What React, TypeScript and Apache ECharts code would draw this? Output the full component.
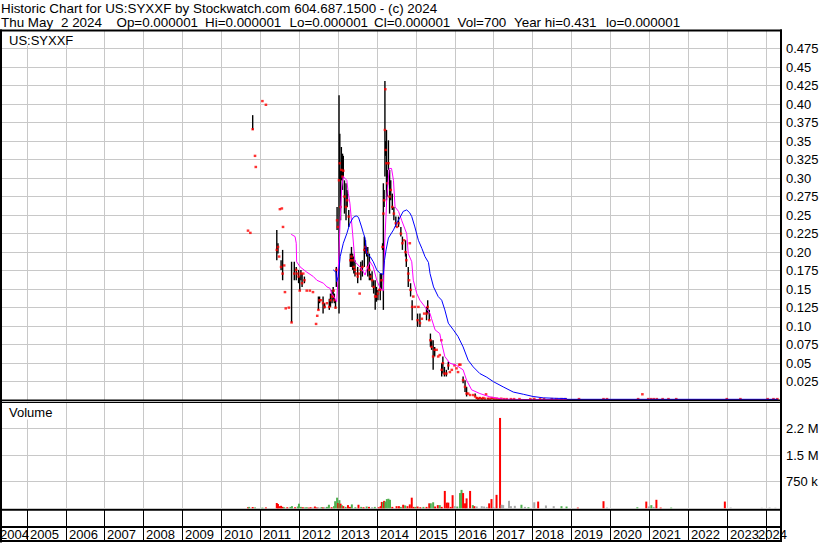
import React, { useEffect, useRef } from 'react';
import * as echarts from 'echarts';

const FONT = 'Arial, "Liberation Sans", Helvetica, sans-serif';

// ---------- texts ----------
const titleLine1 = 'Historic Chart for US:SYXXF by Stockwatch.com 604.687.1500 - (c) 2024';
const quoteTexts = ['Thu May', '2 2024', 'Op=0.000001', 'Hi=0.000001', 'Lo=0.000001', 'Cl=0.000001', 'Vol=700', 'Year hi=0.431', 'lo=0.000001'];
const symbolLabel = 'US:SYXXF';
const volumeLabel = 'Volume';

// ---------- axes ----------
const X_MIN = 2004.339; // 2 May 2004
const X_MAX = 2024.368;
const yearStarts = [2004, 2005, 2006, 2007, 2008, 2009, 2010, 2011, 2012, 2013, 2014, 2015, 2016, 2017, 2018, 2019, 2020, 2021, 2022, 2023, 2024];
const yearLabels = ['2004', '2005', '2006', '2007', '2008', '2009', '2010', '2011', '2012', '2013', '2014', '2015', '2016', '2017', '2018', '2019', '2020', '2021', '2022', '2023', '2024'];
const priceTickLabels = ['0.025', '0.05', '0.075', '0.10', '0.125', '0.15', '0.175', '0.20', '0.225', '0.25', '0.275', '0.30', '0.325', '0.35', '0.375', '0.40', '0.425', '0.45', '0.475'];
const volTickLabels = ['750 k', '1.5 M', '2.2 M'];

// ---------- price: [year, high, low, close] ----------
const priceBars: number[][] = [
  [2010.69, 0.229, 0.229, 0.229], [2010.75, 0.226, 0.226, 0.226], [2010.81, 0.385, 0.365, 0.366],
  [2010.87, 0.330, 0.330, 0.330], [2010.89, 0.315, 0.315, 0.315], [2011.06, 0.404, 0.404, 0.404],
  [2011.15, 0.399, 0.399, 0.399],
  [2011.43, 0.230, 0.189, 0.203], [2011.46, 0.212, 0.198, 0.207], [2011.49, 0.194, 0.194, 0.194],
  [2011.51, 0.258, 0.258, 0.258], [2011.54, 0.189, 0.176, 0.180], [2011.56, 0.259, 0.259, 0.259],
  [2011.58, 0.203, 0.162, 0.171], [2011.59, 0.234, 0.234, 0.234], [2011.62, 0.182, 0.182, 0.182],
  [2011.64, 0.146, 0.146, 0.146], [2011.66, 0.124, 0.124, 0.124], [2011.74, 0.125, 0.125, 0.125],
  [2011.81, 0.187, 0.105, 0.105], [2011.88, 0.187, 0.162, 0.171], [2011.93, 0.180, 0.162, 0.176],
  [2011.96, 0.171, 0.171, 0.171], [2011.99, 0.176, 0.158, 0.167], [2012.02, 0.167, 0.148, 0.148],
  [2012.05, 0.176, 0.162, 0.171], [2012.08, 0.171, 0.153, 0.158], [2012.11, 0.171, 0.171, 0.171],
  [2012.14, 0.167, 0.158, 0.162], [2012.20, 0.148, 0.148, 0.148], [2012.28, 0.148, 0.148, 0.148],
  [2012.36, 0.146, 0.146, 0.146], [2012.44, 0.103, 0.103, 0.103], [2012.47, 0.114, 0.114, 0.114],
  [2012.50, 0.140, 0.122, 0.122], [2012.53, 0.140, 0.131, 0.135], [2012.57, 0.135, 0.135, 0.135],
  [2012.62, 0.140, 0.117, 0.131], [2012.66, 0.131, 0.124, 0.126], [2012.72, 0.131, 0.131, 0.131],
  [2012.78, 0.137, 0.122, 0.126], [2012.81, 0.144, 0.126, 0.135], [2012.85, 0.149, 0.131, 0.140],
  [2012.88, 0.153, 0.135, 0.140], [2012.89, 0.148, 0.148, 0.148], [2012.91, 0.144, 0.131, 0.135],
  [2012.94, 0.135, 0.124, 0.125], [2012.96, 0.180, 0.153, 0.176], [2012.98, 0.261, 0.230, 0.243],
  [2013.00, 0.234, 0.234, 0.234], [2013.03, 0.412, 0.117, 0.297], [2013.05, 0.360, 0.297, 0.320],
  [2013.07, 0.311, 0.243, 0.261], [2013.09, 0.342, 0.297, 0.311], [2013.12, 0.333, 0.284, 0.302],
  [2013.14, 0.330, 0.300, 0.310], [2013.17, 0.297, 0.252, 0.275], [2013.21, 0.293, 0.243, 0.261],
  [2013.24, 0.284, 0.261, 0.270], [2013.28, 0.257, 0.234, 0.248], [2013.32, 0.198, 0.180, 0.189],
  [2013.35, 0.207, 0.180, 0.194], [2013.38, 0.198, 0.176, 0.189], [2013.41, 0.194, 0.171, 0.180],
  [2013.44, 0.189, 0.167, 0.176], [2013.47, 0.171, 0.171, 0.171], [2013.51, 0.180, 0.158, 0.167],
  [2013.54, 0.171, 0.171, 0.171], [2013.56, 0.144, 0.144, 0.144], [2013.59, 0.187, 0.162, 0.176],
  [2013.63, 0.189, 0.167, 0.180], [2013.68, 0.221, 0.180, 0.203], [2013.71, 0.216, 0.198, 0.207],
  [2013.74, 0.207, 0.194, 0.200], [2013.77, 0.207, 0.167, 0.180], [2013.81, 0.198, 0.162, 0.176],
  [2013.84, 0.171, 0.162, 0.167], [2013.88, 0.174, 0.153, 0.162], [2013.92, 0.162, 0.144, 0.153],
  [2013.96, 0.162, 0.122, 0.140], [2013.99, 0.153, 0.133, 0.140], [2014.03, 0.149, 0.135, 0.144],
  [2014.06, 0.149, 0.149, 0.149], [2014.09, 0.171, 0.135, 0.149], [2014.12, 0.171, 0.149, 0.162],
  [2014.15, 0.212, 0.203, 0.207], [2014.17, 0.293, 0.122, 0.252], [2014.19, 0.284, 0.261, 0.270],
  [2014.21, 0.431, 0.302, 0.365], [2014.22, 0.420, 0.420, 0.420], [2014.23, 0.350, 0.330, 0.338],
  [2014.25, 0.365, 0.270, 0.320], [2014.27, 0.311, 0.275, 0.293], [2014.30, 0.351, 0.311, 0.320],
  [2014.33, 0.311, 0.252, 0.275], [2014.36, 0.297, 0.270, 0.284], [2014.40, 0.279, 0.257, 0.261],
  [2014.44, 0.261, 0.243, 0.252], [2014.49, 0.248, 0.234, 0.239], [2014.52, 0.234, 0.234, 0.234],
  [2014.56, 0.248, 0.234, 0.239], [2014.62, 0.234, 0.221, 0.225], [2014.66, 0.221, 0.203, 0.212],
  [2014.70, 0.216, 0.216, 0.216], [2014.74, 0.216, 0.194, 0.200], [2014.76, 0.198, 0.180, 0.189],
  [2014.81, 0.180, 0.153, 0.171], [2014.83, 0.162, 0.162, 0.162], [2014.85, 0.212, 0.212, 0.212],
  [2014.87, 0.158, 0.140, 0.149], [2014.91, 0.135, 0.108, 0.126], [2014.94, 0.140, 0.140, 0.140],
  [2014.98, 0.126, 0.126, 0.126], [2015.05, 0.117, 0.099, 0.108], [2015.07, 0.126, 0.126, 0.126],
  [2015.11, 0.117, 0.099, 0.104], [2015.16, 0.110, 0.110, 0.110], [2015.22, 0.117, 0.117, 0.117],
  [2015.28, 0.126, 0.108, 0.117], [2015.31, 0.135, 0.117, 0.126], [2015.35, 0.122, 0.108, 0.108],
  [2015.38, 0.090, 0.072, 0.081], [2015.41, 0.081, 0.068, 0.072], [2015.45, 0.081, 0.041, 0.059],
  [2015.49, 0.072, 0.059, 0.068], [2015.54, 0.068, 0.068, 0.068], [2015.58, 0.059, 0.059, 0.059],
  [2015.62, 0.061, 0.061, 0.061], [2015.66, 0.081, 0.081, 0.081], [2015.67, 0.050, 0.032, 0.041],
  [2015.70, 0.059, 0.036, 0.050], [2015.74, 0.045, 0.032, 0.036], [2015.79, 0.041, 0.032, 0.036],
  [2015.84, 0.052, 0.041, 0.047], [2015.88, 0.038, 0.038, 0.038], [2015.93, 0.041, 0.041, 0.041],
  [2016.00, 0.047, 0.047, 0.047], [2016.05, 0.043, 0.043, 0.043], [2016.09, 0.038, 0.038, 0.038],
  [2016.12, 0.048, 0.048, 0.048], [2016.15, 0.048, 0.048, 0.048], [2016.22, 0.032, 0.023, 0.027],
  [2016.27, 0.027, 0.011, 0.018], [2016.31, 0.018, 0.005, 0.009], [2016.35, 0.009, 0.009, 0.009],
  [2016.40, 0.007, 0.007, 0.007], [2016.48, 0.007, 0.007, 0.007], [2016.53, 0.009, 0.005, 0.005],
  [2016.57, 0.004, 0.002, 0.003], [2016.61, 0.003, 0.0015, 0.002], [2016.65, 0.004, 0.002, 0.003],
  [2016.70, 0.003, 0.0015, 0.002], [2016.74, 0.003, 0.002, 0.003], [2016.78, 0.002, 0.002, 0.002],
  [2016.81, 0.008, 0.008, 0.008], [2016.86, 0.003, 0.0015, 0.002], [2016.91, 0.002, 0.002, 0.002],
  [2016.96, 0.003, 0.002, 0.003], [2017.02, 0.002, 0.002, 0.002], [2017.08, 0.002, 0.0015, 0.002],
  [2017.14, 0.002, 0.0015, 0.0015], [2017.20, 0.002, 0.002, 0.002], [2017.27, 0.0015, 0.0015, 0.0015],
  [2017.34, 0.0015, 0.0015, 0.0015], [2017.45, 0.0015, 0.0015, 0.0015], [2017.53, 0.0015, 0.0015, 0.0015],
  [2017.67, 0.0015, 0.0015, 0.0015], [2017.95, 0.0015, 0.0015, 0.0015], [2018.05, 0.0018, 0.0018, 0.0018],
  [2018.20, 0.0015, 0.0015, 0.0015], [2018.30, 0.0015, 0.0015, 0.0015], [2018.50, 0.0015, 0.0015, 0.0015],
  [2018.62, 0.0015, 0.0015, 0.0015], [2018.75, 0.0015, 0.0015, 0.0015], [2018.85, 0.0015, 0.0015, 0.0015],
  [2019.20, 0.0015, 0.0015, 0.0015], [2019.83, 0.0015, 0.0015, 0.0015], [2019.92, 0.0015, 0.0015, 0.0015],
  [2020.72, 0.0015, 0.0015, 0.0015], [2020.83, 0.008, 0.008, 0.008], [2020.98, 0.0015, 0.0015, 0.0015],
  [2021.05, 0.0015, 0.0015, 0.0015], [2021.12, 0.0015, 0.0015, 0.0015], [2021.20, 0.0015, 0.0015, 0.0015],
  [2021.35, 0.0015, 0.0015, 0.0015], [2021.50, 0.0015, 0.0015, 0.0015], [2021.70, 0.0015, 0.0015, 0.0015],
  [2023.00, 0.0015, 0.0015, 0.0015], [2023.35, 0.0015, 0.0015, 0.0015], [2024.05, 0.0015, 0.0015, 0.0015],
  [2024.20, 0.0015, 0.0015, 0.0015], [2024.30, 0.0015, 0.0015, 0.0015],
];

// ---------- moving averages: [year, value] ----------
const maShort: number[][] = [
  [2011.80, 0.224], [2011.90, 0.221], [2011.93, 0.212], [2011.94, 0.187], [2012.03, 0.180], [2012.20, 0.173],
  [2012.37, 0.167], [2012.46, 0.162], [2012.63, 0.158], [2012.72, 0.153], [2012.80, 0.151], [2012.84, 0.144],
  [2012.93, 0.137], [2012.97, 0.133], [2013.00, 0.162], [2013.06, 0.243], [2013.10, 0.288], [2013.14, 0.302],
  [2013.23, 0.297], [2013.27, 0.279], [2013.31, 0.266], [2013.38, 0.225], [2013.44, 0.187], [2013.57, 0.180],
  [2013.66, 0.173], [2013.70, 0.169], [2013.74, 0.176], [2013.83, 0.187], [2013.91, 0.180], [2014.00, 0.162],
  [2014.09, 0.151], [2014.17, 0.148], [2014.20, 0.207], [2014.26, 0.275], [2014.32, 0.313], [2014.38, 0.313],
  [2014.43, 0.297], [2014.47, 0.261], [2014.56, 0.255], [2014.64, 0.243], [2014.77, 0.225], [2014.81, 0.198],
  [2014.90, 0.187], [2014.94, 0.162], [2015.03, 0.144], [2015.11, 0.135], [2015.24, 0.126], [2015.37, 0.117],
  [2015.41, 0.110], [2015.50, 0.095], [2015.62, 0.090], [2015.67, 0.077], [2015.75, 0.059], [2015.88, 0.050],
  [2016.05, 0.047], [2016.22, 0.041], [2016.31, 0.027], [2016.44, 0.014], [2016.65, 0.009], [2016.91, 0.0045],
  [2017.25, 0.0014], [2018.00, 0.0008], [2024.31, 0.0008],
];
const maLong: number[][] = [
  [2012.88, 0.176], [2012.95, 0.173], [2012.97, 0.160], [2013.01, 0.167], [2013.06, 0.194], [2013.14, 0.212],
  [2013.23, 0.225], [2013.31, 0.239], [2013.40, 0.247], [2013.47, 0.249], [2013.53, 0.247], [2013.61, 0.234],
  [2013.66, 0.225], [2013.70, 0.219], [2013.74, 0.198], [2013.83, 0.194], [2013.91, 0.187], [2014.00, 0.176],
  [2014.09, 0.171], [2014.17, 0.170], [2014.20, 0.189], [2014.24, 0.203], [2014.30, 0.219], [2014.43, 0.230],
  [2014.51, 0.239], [2014.60, 0.247], [2014.68, 0.255], [2014.77, 0.257], [2014.85, 0.253], [2014.90, 0.248],
  [2014.98, 0.234], [2015.07, 0.216], [2015.16, 0.205], [2015.24, 0.194], [2015.33, 0.186], [2015.37, 0.171],
  [2015.46, 0.153], [2015.58, 0.140], [2015.67, 0.135], [2015.75, 0.122], [2015.84, 0.104], [2015.97, 0.095],
  [2016.09, 0.086], [2016.22, 0.072], [2016.35, 0.054], [2016.48, 0.045], [2016.65, 0.036], [2016.83, 0.031],
  [2017.00, 0.025], [2017.25, 0.018], [2017.51, 0.011], [2017.77, 0.008], [2018.02, 0.005], [2018.28, 0.0032],
  [2018.62, 0.0025], [2018.88, 0.0023], [2018.89, 0.0012], [2024.31, 0.0012],
];

// ---------- volume: [year, shares, direction 1 up / -1 down / 0 unchanged] ----------
const volumeBars: number[][] = [
  [2010.69, 30000, -1], [2010.72, 40000, 1], [2010.81, 35000, -1], [2010.87, 25000, 1], [2011.06, 20000, 1],
  [2011.15, 25000, -1], [2011.43, 150000, -1], [2011.46, 120000, -1], [2011.50, 60000, -1], [2011.54, 70000, -1],
  [2011.58, 40000, -1], [2011.62, 30000, 1], [2011.70, 30000, -1], [2011.78, 40000, 1], [2011.82, 60000, 1],
  [2011.90, 30000, -1], [2011.97, 50000, 1], [2012.00, 130000, 1], [2012.05, 40000, 1], [2012.10, 30000, -1],
  [2012.16, 25000, 1], [2012.20, 30000, 1], [2012.25, 20000, -1], [2012.30, 30000, -1], [2012.36, 20000, 0],
  [2012.41, 50000, -1], [2012.46, 25000, -1], [2012.50, 30000, 0], [2012.58, 35000, 1], [2012.62, 25000, -1],
  [2012.66, 30000, 0], [2012.72, 40000, 1], [2012.77, 100000, 1], [2012.84, 30000, -1], [2012.90, 60000, 1],
  [2012.93, 200000, 1], [2012.98, 300000, 1], [2013.01, 150000, -1], [2013.04, 230000, 1], [2013.07, 130000, -1],
  [2013.10, 90000, 1], [2013.14, 60000, -1], [2013.20, 40000, 1], [2013.26, 90000, -1], [2013.31, 40000, -1],
  [2013.36, 110000, 1], [2013.45, 30000, 1], [2013.53, 100000, -1], [2013.60, 40000, 1], [2013.66, 30000, -1],
  [2013.74, 50000, 1], [2013.80, 40000, -1], [2013.88, 30000, 0], [2013.95, 40000, 1], [2014.05, 30000, -1],
  [2014.10, 60000, -1], [2014.13, 180000, -1], [2014.16, 170000, 1], [2014.19, 210000, -1], [2014.22, 190000, 1],
  [2014.26, 260000, 1], [2014.30, 270000, 1], [2014.34, 240000, 1], [2014.40, 40000, -1], [2014.51, 60000, -1],
  [2014.57, 60000, -1], [2014.62, 40000, 1], [2014.68, 100000, -1], [2014.73, 80000, 1], [2014.79, 60000, -1],
  [2014.85, 110000, -1], [2014.90, 300000, -1], [2014.95, 40000, -1], [2015.00, 40000, 1], [2015.05, 50000, -1],
  [2015.12, 30000, -1], [2015.20, 40000, 1], [2015.28, 40000, -1], [2015.35, 140000, -1], [2015.39, 140000, 1],
  [2015.45, 170000, 1], [2015.50, 50000, -1], [2015.57, 90000, -1], [2015.62, 90000, 1], [2015.67, 40000, -1],
  [2015.75, 490000, -1], [2015.80, 160000, -1], [2015.84, 160000, -1], [2015.90, 40000, -1], [2015.95, 370000, -1],
  [2016.01, 60000, 0], [2016.07, 50000, 1], [2016.14, 430000, 1], [2016.18, 520000, 1], [2016.22, 430000, -1],
  [2016.27, 140000, -1], [2016.31, 280000, -1], [2016.40, 490000, -1], [2016.47, 90000, 1], [2016.51, 60000, -1],
  [2016.57, 50000, 0], [2016.70, 60000, 0], [2016.76, 50000, 0], [2016.83, 40000, 0], [2016.89, 140000, -1],
  [2016.95, 260000, -1], [2017.00, 40000, 0], [2017.08, 380000, -1], [2017.17, 2550000, -1], [2017.21, 100000, 0],
  [2017.25, 90000, 0], [2017.40, 210000, 0], [2017.45, 60000, 0], [2017.55, 70000, 0], [2017.72, 100000, 1],
  [2017.81, 40000, 0], [2017.90, 30000, 1], [2018.05, 170000, 0], [2018.15, 190000, -1], [2018.35, 80000, 0],
  [2018.55, 60000, 0], [2018.75, 60000, 1], [2018.88, 50000, 1], [2019.17, 20000, -1], [2019.83, 200000, -1],
  [2019.92, 20000, 0], [2020.70, 30000, 1], [2020.93, 190000, -1], [2021.00, 50000, 0], [2021.06, 90000, 1],
  [2021.12, 40000, 0], [2021.19, 240000, -1], [2021.30, 20000, -1], [2021.57, 20000, 1], [2022.95, 190000, -1],
  [2023.10, 20000, 0], [2023.90, 15000, 0], [2024.10, 20000, 0], [2024.25, 15000, 0],
];

// ---------- layout (pixels) ----------
const quoteX = [1, 61, 116.5, 205, 289.5, 374, 457.5, 514, 606];
const GRID_LEFT = 1;
const GRID_WIDTH = 779;

const gridColor = '#c8c8c8';
const upColor = '#4fb04f';
const downColor = '#ff0000';
const flatColor = '#a8a8a8';

function yearLines(gi: number, topVal: number) {
  return {
    type: 'custom',
    xAxisIndex: gi,
    yAxisIndex: gi,
    z: 1,
    silent: true,
    clip: false,
    data: yearStarts.slice(1).map((y) => [y, 0]),
    renderItem: (params: any, api: any) => {
      const p0 = api.coord([api.value(0), 0]);
      const p1 = api.coord([api.value(0), topVal]);
      const x = Math.round(p0[0]) + 0.5;
      return {
        type: 'line',
        shape: { x1: x, y1: p0[1], x2: x, y2: p1[1] },
        style: { stroke: gridColor, lineWidth: 1 },
      };
    },
  };
}

function buildOption() {
  const rect = (x: number, y: number, w: number, h: number, fill = '#000', z = 100) => ({
    type: 'rect', z, silent: true, shape: { x, y, width: w, height: h }, style: { fill },
  });
  const text = (t: string, x: number, y: number, size = 13) => ({
    type: 'text', z: 101, silent: true, x, y,
    style: { text: t, fill: '#000', font: `${size}px ${FONT}`, align: 'left', verticalAlign: 'middle' },
  });

  return {
    animation: false,
    backgroundColor: '#ffffff',
    grid: [
      { left: GRID_LEFT, top: 30, width: GRID_WIDTH, height: 370.2 },
      { left: GRID_LEFT, top: 402, width: GRID_WIDTH, height: 106.3 },
      { left: GRID_LEFT, top: 510, width: GRID_WIDTH, height: 31 },
    ],
    xAxis: [0, 1, 2].map((i) => ({ type: 'value', gridIndex: i, min: X_MIN, max: X_MAX, show: false })),
    yAxis: [
      {
        type: 'value', gridIndex: 0, position: 'right', min: 0, max: 0.5, interval: 0.025,
        axisLine: { show: false }, axisTick: { show: false },
        axisLabel: {
          margin: 6, fontSize: 13, fontFamily: FONT, color: '#000',
          formatter: (v: number) => {
            const i = Math.round(v / 0.025);
            if (Math.abs(v - i * 0.025) > 1e-7 || i < 1 || i > priceTickLabels.length) return '';
            return priceTickLabels[i - 1];
          },
        },
        splitLine: { show: true, lineStyle: { color: gridColor, width: 1 } },
      },
      {
        type: 'value', gridIndex: 1, position: 'right', min: 0, max: 3000000, interval: 750000,
        axisLine: { show: false }, axisTick: { show: false },
        axisLabel: {
          margin: 6, fontSize: 13, fontFamily: FONT, color: '#000',
          formatter: (v: number) => {
            const i = Math.round(v / 750000);
            if (i < 1 || i > volTickLabels.length) return '';
            return volTickLabels[i - 1];
          },
        },
        splitLine: { show: true, lineStyle: { color: gridColor, width: 1 } },
      },
      { type: 'value', gridIndex: 2, min: 0, max: 1, show: false },
    ],
    series: [
      yearLines(0, 0.5),
      yearLines(1, 3000000),
      {
        name: 'range', type: 'custom', xAxisIndex: 0, yAxisIndex: 0, z: 2, silent: true,
        data: priceBars,
        renderItem: (params: any, api: any) => {
          const h = api.value(1);
          const l = api.value(2);
          if (!(h > l)) return null;
          const a = api.coord([api.value(0), h]);
          const b = api.coord([api.value(0), l]);
          return { type: 'line', shape: { x1: a[0], y1: a[1], x2: b[0], y2: b[1] }, style: { stroke: '#000', lineWidth: 1.4 } };
        },
      },
      {
        name: 'close', type: 'scatter', xAxisIndex: 0, yAxisIndex: 0, z: 3, silent: true,
        symbol: 'rect', symbolSize: [2.6, 2.4],
        itemStyle: { color: '#ff0000' },
        data: priceBars.map((r) => [r[0], r[3]]),
      },
      {
        name: 'ma short', type: 'line', xAxisIndex: 0, yAxisIndex: 0, z: 4, silent: true,
        symbol: 'none', showSymbol: false,
        lineStyle: { color: '#ff00ff', width: 1 },
        data: maShort,
      },
      {
        name: 'ma long', type: 'line', xAxisIndex: 0, yAxisIndex: 0, z: 5, silent: true,
        symbol: 'none', showSymbol: false,
        lineStyle: { color: '#0000ff', width: 1 },
        data: maLong,
      },
      {
        name: 'volume', type: 'custom', xAxisIndex: 1, yAxisIndex: 1, z: 3, silent: true,
        data: volumeBars,
        renderItem: (params: any, api: any) => {
          const top = api.coord([api.value(0), api.value(1)]);
          const base = api.coord([api.value(0), 0]);
          const d = api.value(2);
          const fill = d > 0 ? upColor : d < 0 ? downColor : flatColor;
          return { type: 'rect', shape: { x: top[0] - 1, y: top[1], width: 2, height: base[1] - top[1] }, style: { fill } };
        },
      },
      {
        name: 'years', type: 'custom', xAxisIndex: 2, yAxisIndex: 2, z: 6, silent: true, clip: false,
        data: yearStarts.map((y) => [y, 0]),
        renderItem: (params: any, api: any) => {
          const t = api.coord([api.value(0), 1]);
          const b = api.coord([api.value(0), 0]);
          const x = Math.round(t[0]) + 0.5;
          const lx = Math.min(Math.max(x + 2.5, 0), 758);
          return {
            type: 'group',
            children: [
              { type: 'line', shape: { x1: x, y1: t[1], x2: x, y2: b[1] }, style: { stroke: '#000', lineWidth: 1 } },
              {
                type: 'text', x: lx, y: 534.5,
                style: { text: yearLabels[params.dataIndex], fill: '#000', font: `13px ${FONT}`, align: 'left', verticalAlign: 'middle' },
              },
            ],
          };
        },
      },
    ],
    graphic: {
      elements: [
        // label boxes
        rect(2, 31.5, 80, 14, '#ffffff', 50),
        rect(2, 403.5, 58, 16, '#ffffff', 50),
        text(symbolLabel, 9, 40.5),
        text(volumeLabel, 9, 412.5),
        // frame
        rect(0, 29.5, 782, 2),
        rect(0, 29.5, 2, 513),
        rect(780, 29.5, 2, 512.5),
        rect(0, 399.6, 782, 1.3),
        rect(0, 401.8, 782, 1.3),
        rect(0, 509, 782, 1.7),
        rect(0, 526, 782, 2),
        rect(0, 540, 782, 2),
        // title
        text(titleLine1, 1, 8.5, 13.4),
        ...quoteTexts.map((q, i) => text(q, quoteX[i], 22.5, 13.4)),
      ],
    },
  };
}

export default function App() {
  const ref = useRef<HTMLDivElement>(null);
  useEffect(() => {
    if (!ref.current) return;
    const chart = echarts.init(ref.current, null, { renderer: 'svg' });
    chart.setOption(buildOption() as any);
    return () => chart.dispose();
  }, []);
  return <div ref={ref} style={{ position: 'absolute', left: 0, top: 0, width: 830, height: 543, background: '#fff' }} />;
}
